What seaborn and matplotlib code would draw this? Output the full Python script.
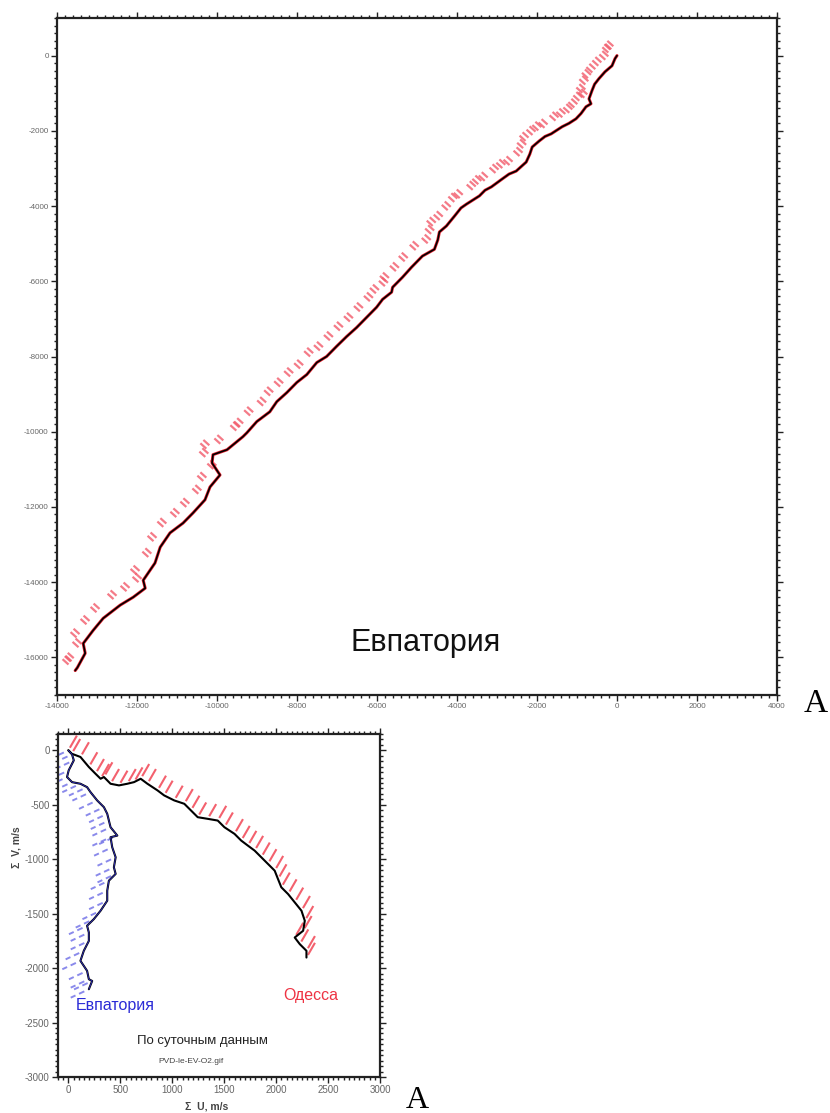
import numpy as np
import pandas as pd
import matplotlib
matplotlib.use("Agg")
import matplotlib.pyplot as plt
from matplotlib.collections import LineCollection
from matplotlib.ticker import MultipleLocator
import seaborn as sns

sns.set_style("white")
plt.rcParams["font.family"] = ["Liberation Sans", "DejaVu Sans"]
plt.rcParams["axes.unicode_minus"] = False

# ---- progressive vector diagram, Евпатория (cumulative U, V) ----
evp_long_u = [0, -50, -125, -300, -450, -560, -625, -700, -650, -775, -900, -1025,
              -1200, -1370, -1645, -1800, -1945, -2120, -2180, -2270, -2520, -2700,
              -2870, -3140, -3300, -3440, -3765, -3900, -4065, -4265, -4440, -4480,
              -4565, -4865, -5140, -5360, -5610, -5635, -5860, -6010, -6260, -6510,
              -6760, -7010, -7260, -7505, -7755, -8005, -8255, -8505, -8680, -9005,
              -9255, -9350, -9750, -10100, -10125, -9925, -10175, -10300, -10600,
              -10850, -11175, -11420, -11550, -11845, -11795, -12095, -12420, -12845,
              -13095, -13345, -13295, -13490, -13545]
evp_long_v = [0, -80, -270, -430, -610, -760, -930, -1150, -1280, -1360, -1540, -1680,
              -1800, -1890, -2080, -2150, -2270, -2430, -2620, -2830, -3070, -3150,
              -3280, -3490, -3580, -3730, -3950, -4050, -4270, -4530, -4690, -4900,
              -5150, -5330, -5630, -5890, -6160, -6290, -6480, -6690, -6960, -7230,
              -7470, -7730, -8000, -8160, -8480, -8690, -8960, -9200, -9470, -9730,
              -10030, -10130, -10480, -10610, -10830, -11150, -11470, -11810, -12160,
              -12430, -12690, -13070, -13490, -13950, -14160, -14400, -14610, -14960,
              -15280, -15630, -15890, -16270, -16350]

# ---- daily data: Одесса and Евпатория ----
ode_u = [0, 32, 116, 197, 261, 310, 342, 406, 487, 567, 632, 696, 761, 858, 922,
         1019, 1116, 1180, 1245, 1341, 1438, 1502, 1599, 1664, 1728, 1793, 1857,
         1921, 1986, 2018, 2050, 2115, 2179, 2244, 2276, 2260, 2179, 2228, 2292, 2292]
ode_v = [0, -31, -61, -153, -215, -261, -245, -307, -322, -307, -292, -261, -307,
         -368, -414, -460, -491, -552, -614, -629, -645, -706, -767, -829, -875,
         -921, -982, -1043, -1105, -1182, -1258, -1320, -1396, -1473, -1565, -1657,
         -1719, -1780, -1841, -1903]

evd_u = [0, 35, 52, 3, -13, 35, 116, 180, 213, 277, 342, 374, 390, 406, 471, 406,
         422, 455, 438, 455, 390, 374, 374, 310, 245, 180, 197, 197, 148, 116, 180,
         197, 229, 197]
evd_v = [0, -37, -92, -184, -245, -292, -307, -338, -384, -460, -522, -583, -645,
         -706, -783, -798, -890, -982, -1074, -1135, -1197, -1289, -1381, -1473,
         -1550, -1611, -1673, -1750, -1842, -1933, -2025, -2102, -2118, -2194]

top_xticks = list(range(-14000, 4001, 2000))
top_yticks = list(range(-16000, 1, 2000))
bot_xticks = list(range(0, 3001, 500))
bot_yticks = list(range(-3000, 1, 500))

W, H = 830, 1113
fig = plt.figure(figsize=(W / 100, H / 100), dpi=100)
fig.patch.set_facecolor("white")


def px_axes(l, t, r, b):
    return fig.add_axes([l / W, 1 - b / H, (r - l) / W, (b - t) / H])


def style_axes(ax, fs):
    ax.tick_params(which="both", direction="out", top=True, right=True,
                   bottom=True, left=True, colors="#222", labelcolor="#666",
                   labelsize=fs, width=1.0)
    ax.tick_params(which="major", length=4, pad=2)
    ax.tick_params(which="minor", length=2)
    for s in ax.spines.values():
        s.set_visible(True)
        s.set_color("#222")
        s.set_linewidth(1.6)


def sticks(ax, u, v, angle_deg, r0, r1, color, lw, ls="-", alpha=1.0, pair=0.0):
    """Short sticks hanging off each path vertex, angle measured on screen."""
    pts = ax.transData.transform(np.column_stack([u, v]))
    d = np.array([np.cos(np.radians(angle_deg)), np.sin(np.radians(angle_deg))])
    along = np.array([d[1], -d[0]])
    bases = [pts] if pair == 0 else [pts, pts + along * pair]
    segs = []
    inv = ax.transData.inverted()
    for b in bases:
        a0 = inv.transform(b + d * r0)
        a1 = inv.transform(b + d * r1)
        segs.extend([[p, q] for p, q in zip(a0, a1)])
    ax.add_collection(LineCollection(segs, colors=color, linewidths=lw,
                                     linestyles=ls, alpha=alpha, zorder=2))


# ================= top panel =================
ax1 = px_axes(57, 18, 777, 695)
ax1.set_xlim(-14000, 4000)
ax1.set_ylim(-17000, 1000)
style_axes(ax1, 5.8)
ax1.set_xticks(top_xticks)
ax1.set_yticks(top_yticks)
ax1.xaxis.set_minor_locator(MultipleLocator(200))
ax1.yaxis.set_minor_locator(MultipleLocator(200))

df_long = pd.DataFrame({"u": evp_long_u, "v": evp_long_v})
sticks(ax1, evp_long_u, evp_long_v, 138, 9, 17, "#f25a6a", 1.6, alpha=0.8, pair=4.5)
sns.lineplot(data=df_long, x="u", y="v", sort=False, estimator=None, ax=ax1,
             color="#e8202e", linewidth=2.2, zorder=3)
sns.lineplot(data=df_long, x="u", y="v", sort=False, estimator=None, ax=ax1,
             color="black", linewidth=1.2, zorder=4)
ax1.set_xlabel("")
ax1.set_ylabel("")
ax1.text(-4790, -15630, "Евпатория", fontsize=22, color="#111",
         ha="center", va="center")

# ================= bottom panel =================
ax2 = px_axes(58, 734, 380, 1077)
ax2.set_xlim(-100, 3000)
ax2.set_ylim(-3000, 150)
style_axes(ax2, 7)
ax2.set_xticks(bot_xticks)
ax2.set_yticks(bot_yticks)
ax2.xaxis.set_minor_locator(MultipleLocator(50))
ax2.yaxis.set_minor_locator(MultipleLocator(50))

df_ode = pd.DataFrame({"u": ode_u, "v": ode_v})
df_evd = pd.DataFrame({"u": evd_u, "v": evd_v})
sticks(ax2, ode_u, ode_v, 60, 3, 17, "#f2505e", 1.5, alpha=0.9)
sticks(ax2, evd_u, evd_v, 205, 5, 20, "#6d6de6", 1.4, ls=(0, (3, 2)), alpha=0.8)
sns.lineplot(data=df_ode, x="u", y="v", sort=False, estimator=None, ax=ax2,
             color="black", linewidth=1.5, zorder=4)
sns.lineplot(data=df_evd, x="u", y="v", sort=False, estimator=None, ax=ax2,
             color="black", linewidth=1.5, zorder=4)
sns.lineplot(data=df_evd, x="u", y="v", sort=False, estimator=None, ax=ax2,
             color="#3030c0", linewidth=0.6, zorder=5)

ax2.set_xlabel("Σ  U, m/s", fontsize=7.5, color="#444", fontweight="bold")
ax2.set_ylabel("Σ  V, m/s", fontsize=7.5, color="#444", fontweight="bold")
ax2.xaxis.set_label_coords(0.463, -0.072)
ax2.yaxis.set_label_coords(-0.112, 0.67)

ax2.text(455, -2345, "Евпатория", fontsize=11.5, color="#2b2bd6",
         ha="center", va="center")
ax2.text(2330, -2255, "Одесса", fontsize=11.5, color="#ee3343",
         ha="center", va="center")
ax2.text(1290, -2670, "По суточным данным", fontsize=9.5, color="#222",
         ha="center", va="center")
ax2.text(1180, -2855, "PVD-le-EV-O2.gif", fontsize=6, color="#444",
         ha="center", va="center")

# ---- figure letters ----
fig.text(816 / W, 1 - 704 / H, "A", fontsize=24, family="Liberation Serif",
         ha="center", va="center", color="black")
fig.text(417 / W, 1 - 1108 / H, "A", fontsize=23, family="Liberation Serif",
         ha="center", va="baseline", color="black")

fig.savefig("out.png", dpi=100, facecolor="white")
